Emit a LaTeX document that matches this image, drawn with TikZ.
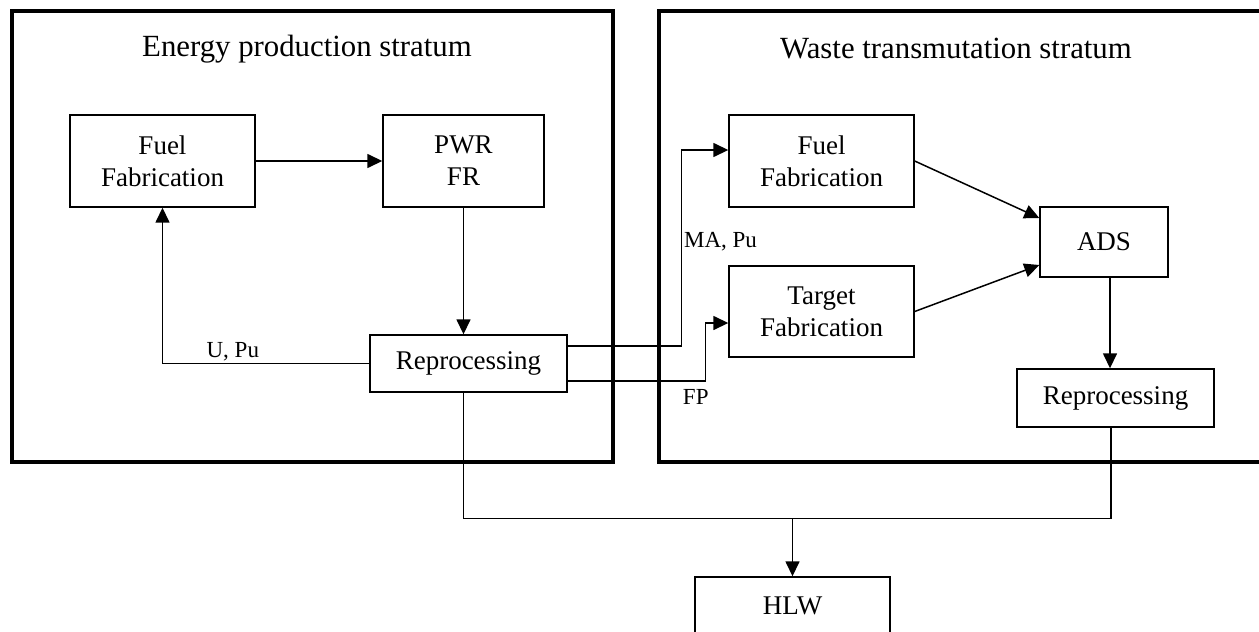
\documentclass[tikz,border=0pt]{standalone}
\usepackage{fontspec}
\setmainfont{Liberation Serif}
\usetikzlibrary{arrows.meta,calc}

\begin{document}
\begin{tikzpicture}[x=0.5pt, y=0.5pt, >={Triangle[length=7.5pt,width=7pt]},
	stage/.style={draw, line width=0.7pt, align=center, inner sep=0pt,
		font=\fontsize{13.5}{16}\selectfont},
	stratum/.style={line width=1.8pt},
	flow/.style={line width=0.75pt},
	tag/.style={inner sep=0pt, font=\fontsize{11.5}{13}\selectfont}]
	
	\useasboundingbox (0,0) rectangle (1259,-632);
	
	% ----- frames of the two strata
	\draw[stratum] (12,-11) rectangle (613,-462);
	\draw[stratum] (659,-11) rectangle (1264,-462);
	\node[font=\fontsize{15.4}{18}\selectfont] (epTitle) at (307,-49) {Energy production stratum};
	\node[font=\fontsize{15.4}{18}\selectfont] (wtTitle) at (956,-49) {Waste transmutation stratum};
	
	% ----- LEFT: energy production
	\node[stage, minimum width=92.5pt, minimum height=46pt] (ffE) at (162.5,-161) {Fuel\\Fabrication};
	\node[stage, minimum width=80.5pt, minimum height=46pt] (pwr) at (463.5,-161) {PWR\\FR};
	\node[stage, minimum width=98.5pt, minimum height=28.5pt] (repE) at (468.5,-363.5) {Reprocessing};
	
	\draw[flow,->] (ffE) -- (pwr);
	\draw[flow,->] (pwr.south) -- (pwr.south |- repE.north);
	\draw[flow,->] (repE.west) -| node[tag, pos=0.33, above=1pt] {U, Pu} (ffE.south);
	
	% ----- RIGHT: waste transmutation
	\node[stage, minimum width=92.5pt, minimum height=46pt] (ffW) at (821.5,-161) {Fuel\\Fabrication};
	\node[stage, minimum width=92.5pt, minimum height=45.5pt] (tfW) at (821.5,-311.5) {Target\\Fabrication};
	\node[stage, minimum width=64pt, minimum height=35pt] (ads) at (1104,-242) {ADS};
	\node[stage, minimum width=98.5pt, minimum height=29pt] (repW) at (1115.5,-398) {Reprocessing};
	
	\draw[flow,->] (ffW.east) -- ($(ads.west)+(0,24)$);
	\draw[flow,->] (tfW.east) -- ($(ads.west)+(0,-23)$);
	\draw[flow,->] ($(ads.south)+(6,0)$) -- ($(repW.north)+(-5.5,0)$);
	
	% streams leaving the energy stratum
	\draw[flow,->] ($(repE.east)+(0,17.5)$) -| node[tag, pos=0.765, right=1pt] {MA, Pu}
		($(ffW.west)+(-47,11)$) -- ($(ffW.west)+(0,11)$);
	\draw[flow,->] ($(repE.east)+(0,-17.5)$) -| node[tag, pos=0.5, anchor=north east, xshift=2pt, yshift=-4pt] {FP}
		($(tfW.west)+(-23,-11.5)$) -- ($(tfW.west)+(0,-11.5)$);
	
	% ----- waste to HLW
	\node[stage, minimum width=97.5pt, minimum height=29pt] (hlw) at (792.5,-606) {HLW};
	\coordinate (bus) at ($(hlw.north)+(0,58)$);
	\draw[flow] (pwr.south |- repE.south) |- (bus) -| ($(repW.south)+(-4.5,0)$);
	\draw[flow,->] (bus) -- (hlw.north);
	
\end{tikzpicture}
\end{document}
